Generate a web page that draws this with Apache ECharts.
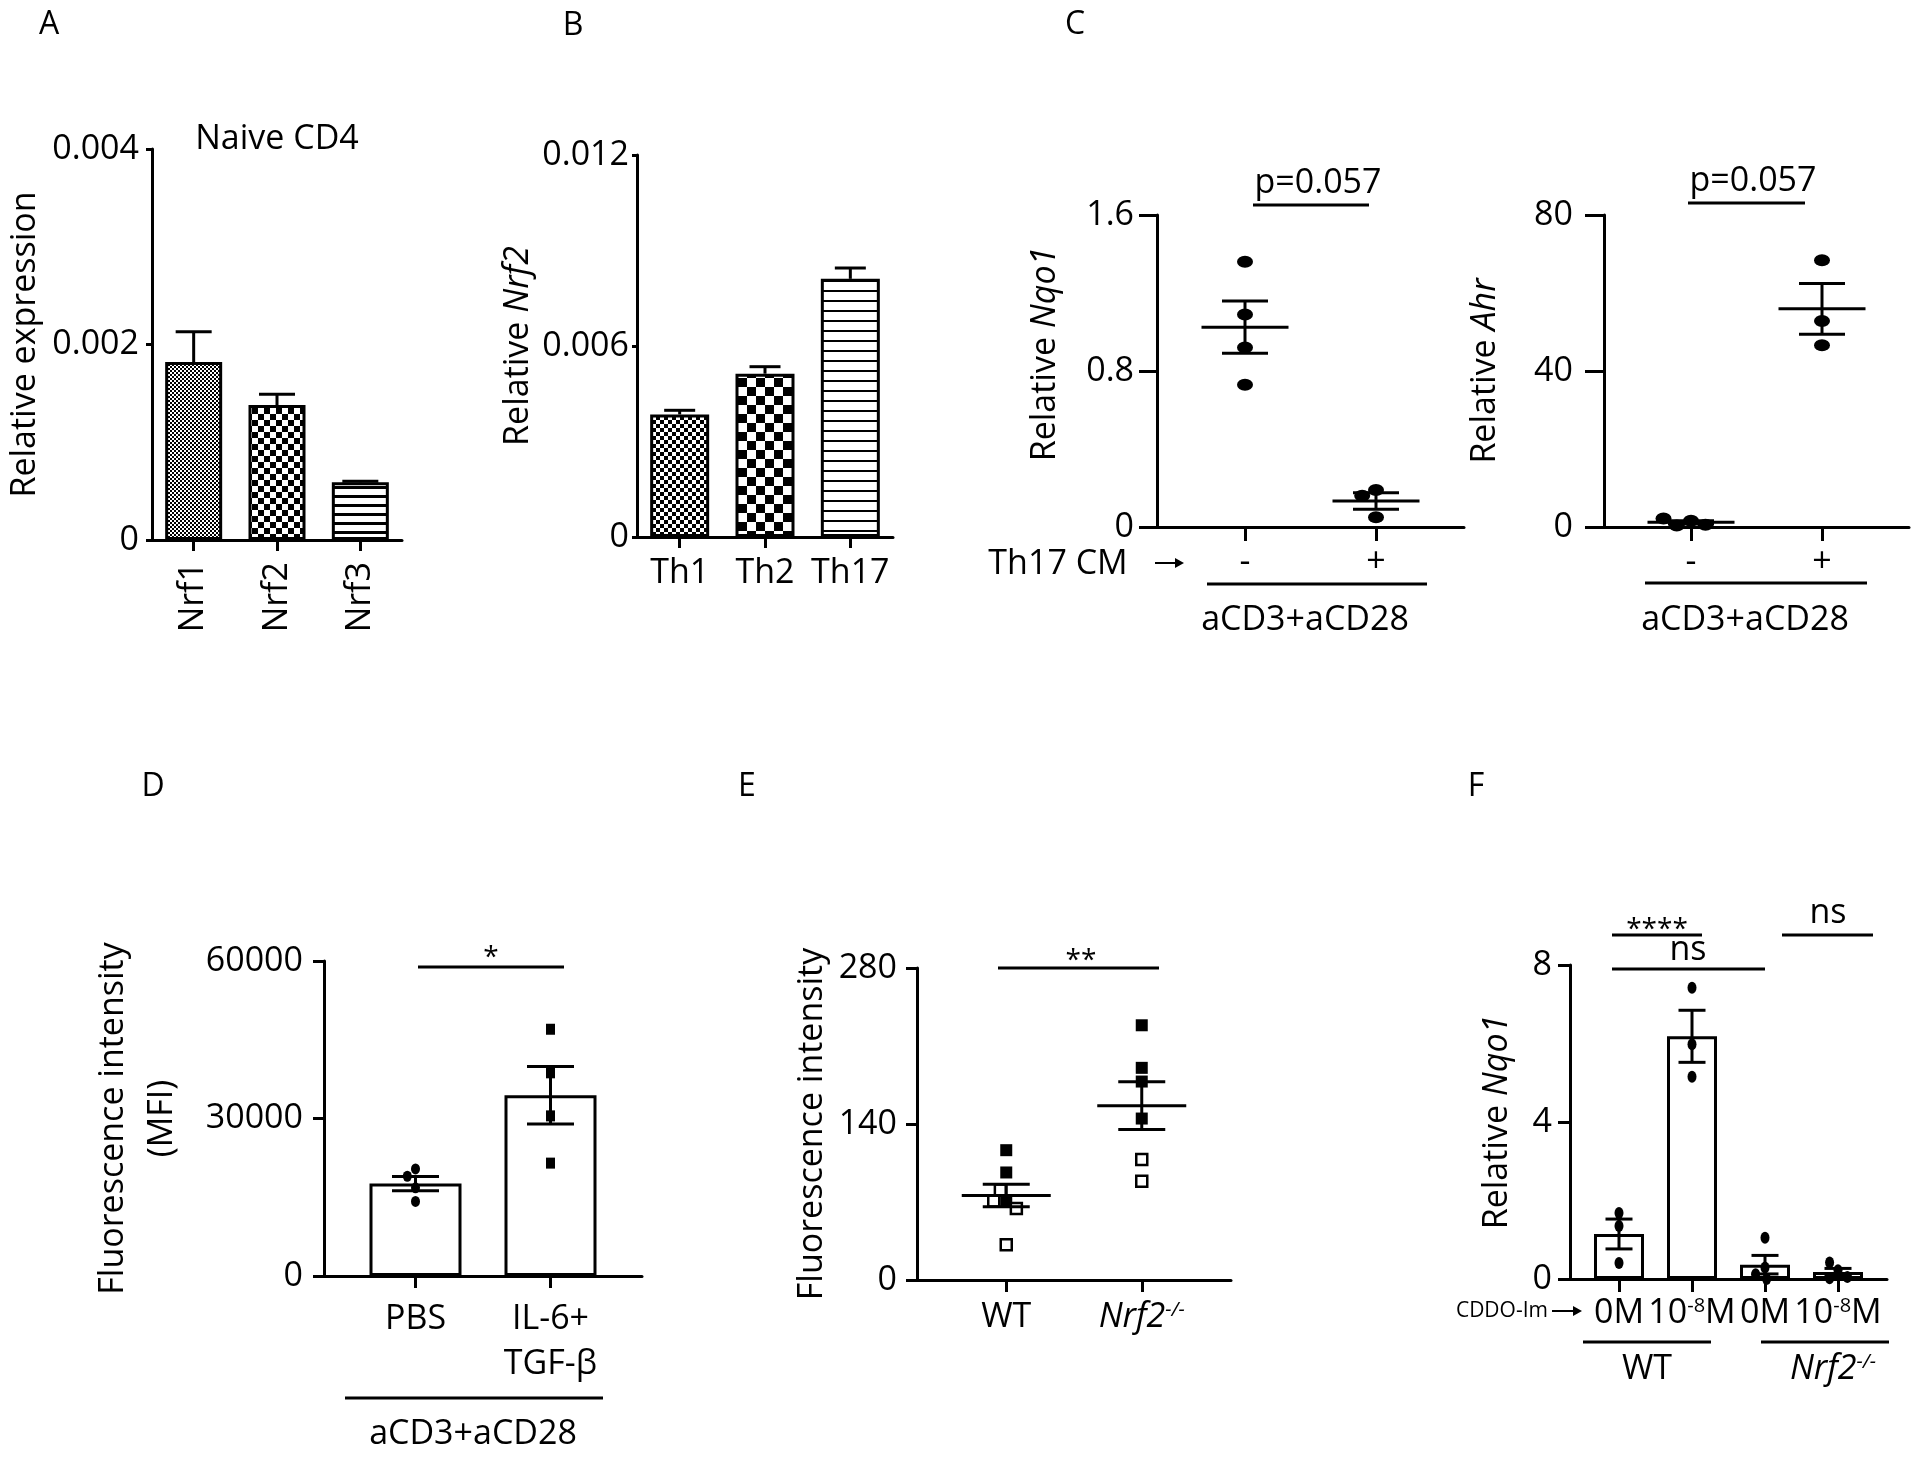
<!DOCTYPE html>
<html>
<head>
<meta charset="utf-8">
<title>Nrf2 figure</title>
<script src="https://cdn.jsdelivr.net/npm/echarts@6.0.0/dist/echarts.min.js"></script>
<style>
html,body{margin:0;padding:0;background:#fff;}
#chart{width:1920px;height:1457px;}
</style>
</head>
<body>
<div id="chart"></div>
<script>
// ================= DATA =================
// Panel A
const aCategories = ['Nrf1', 'Nrf2', 'Nrf3'];
const aMeans = [0.00182, 0.00138, 0.00059];
const aSems = [0.00031, 0.00011, 0.00001];
const aYTicks = [0, 0.002, 0.004];
const aYLabels = ['0', '0.002', '0.004'];
// Panel B
const bCategories = ['Th1', 'Th2', 'Th17'];
const bMeans = [0.00385, 0.00513, 0.00811];
const bSems = [0.00013, 0.00022, 0.00034];
const bYTicks = [0, 0.006, 0.012];
const bYLabels = ['0', '0.006', '0.012'];
// Panel C
const cCategories = ['-', '+'];
const cNqo1Minus = [1.36, 1.09, 0.92, 0.73];
const cNqo1Plus = [0.19, 0.16, 0.05];
const cNqo1YTicks = [0, 0.8, 1.6];
const cNqo1YLabels = ['0', '0.8', '1.6'];
const cAhrMinus = [1.6, 0.4, 0.6, 2.2];
const cAhrPlus = [68.4, 52.8, 46.6];
const cAhrYTicks = [0, 40, 80];
const cAhrYLabels = ['0', '40', '80'];
// Panel D
const dCategories = ['PBS', 'IL-6+\nTGF-β'];
const dPBS = [20400, 19000, 16800, 14200];
const dIL6TGF = [47000, 38700, 30500, 21500];
const dYTicks = [0, 30000, 60000];
const dYLabels = ['0', '30000', '60000'];
// Panel E
const eCategories = ['WT', 'Nrf2-/-'];
const eWTFilled = [116.5, 96.5, 70.8];
const eWTOpen = [80.7, 70.8, 64.2, 31.7];
const eKOFilled = [228.6, 190.4, 178.1, 144.9];
const eKOOpen = [108.2, 88.7];
const eYTicks = [0, 140, 280];
const eYLabels = ['0', '140', '280'];
// Panel F
const fCategories = ['0M', '10-8M', '0M', '10-8M'];
const fWT0 = [1.68, 1.35, 0.41];
const fWT8 = [7.42, 5.98, 5.15];
const fKO0 = [1.05, 0.29, 0.12, 0.0];
const fKO8 = [0.22, 0.42, 0.02, 0.05];
const fYTicks = [0, 4, 8];
const fYLabels = ['0', '4', '8'];

// ================= STYLE / HELPERS =================
const FONT = "'Open Sans', 'Noto Sans', 'DejaVu Sans', sans-serif";
const FS = 34;
const BLACK = '#000';
const LINE = { color: BLACK, width: 3 };
const RICH = {
  i: { fontFamily: FONT, fontSize: FS, fontStyle: 'italic', color: BLACK },
  sup: { fontFamily: FONT, fontSize: 20, color: BLACK, verticalAlign: 'top' },
  isup: { fontFamily: FONT, fontSize: 20, fontStyle: 'italic', color: BLACK, verticalAlign: 'top' }
};

function stat(arr) {
  const n = arr.length;
  const m = arr.reduce((s, v) => s + v, 0) / n;
  const sd = Math.sqrt(arr.reduce((s, v) => s + (v - m) * (v - m), 0) / (n - 1));
  return [m, sd / Math.sqrt(n)];
}
function tickFmt(ticks, labels) {
  return function (v) {
    const i = ticks.findIndex(t => Math.abs(t - v) < 1e-9);
    return i >= 0 ? labels[i] : '';
  };
}
function pattern(draw, w, h) {
  const c = document.createElement('canvas');
  c.width = w; c.height = h;
  const g = c.getContext('2d');
  g.fillStyle = '#fff'; g.fillRect(0, 0, w, h);
  g.fillStyle = '#000'; draw(g);
  return { image: c, repeat: 'repeat' };
}
const checker = n => pattern(g => { g.fillRect(0, 0, n, n); g.fillRect(n, n, n, n); }, 2 * n, 2 * n);
const stripes = (p, t) => pattern(g => { g.fillRect(0, 0, 4, t); }, 4, p);

const grid = [], xAxis = [], yAxis = [], series = [], graphic = [];

function panel(p) {
  const go = grid.length;
  grid.push({ left: p.left, top: p.top, width: p.width, height: p.height });
  grid.push({ left: p.left + p.inset, top: p.top, width: p.width - 2 * p.inset, height: p.height });
  xAxis.push({
    gridIndex: go, type: 'value', min: 0, max: 1,
    axisLine: { show: true, onZero: false, lineStyle: LINE },
    axisTick: { show: false }, axisLabel: { show: false }, splitLine: { show: false }
  });
  yAxis.push({
    gridIndex: go, type: 'value', min: p.ticks[0], max: p.ticks[p.ticks.length - 1],
    interval: p.ticks[1] - p.ticks[0],
    axisLine: { show: true, onZero: false, lineStyle: LINE },
    axisTick: { show: true, length: p.yTick, lineStyle: LINE },
    axisLabel: { show: true, margin: p.yMargin, formatter: tickFmt(p.ticks, p.labels), color: BLACK, fontFamily: FONT, fontSize: FS },
    splitLine: { show: false },
    name: p.name, nameLocation: 'middle', nameGap: p.nameGap, nameRotate: 90,
    nameTextStyle: { color: BLACK, fontFamily: FONT, fontSize: FS, lineHeight: p.nameLH || FS, rich: RICH, padding: p.namePad || 0 }
  });
  const xi = xAxis.length;
  xAxis.push({
    gridIndex: go + 1, type: 'category', data: p.cats, boundaryGap: true,
    axisLine: { show: false },
    axisTick: { show: true, alignWithLabel: true, length: p.xTick, lineStyle: LINE },
    axisLabel: {
      show: true, interval: 0, margin: p.xMargin, rotate: p.rotate || 0,
      formatter: p.xFmt || (v => v), color: BLACK, fontFamily: FONT, fontSize: FS,
      lineHeight: p.xLH || FS, rich: RICH
    },
    splitLine: { show: false },
    jitter: p.jitter || 0, jitterOverlap: false, jitterMargin: 1
  });
  const yi = yAxis.length;
  yAxis.push({
    gridIndex: go + 1, type: 'value', min: p.ticks[0], max: p.ticks[p.ticks.length - 1], show: false
  });
  return [xi, yi];
}

function errSeries(xi, yi, stats, o) {
  return {
    type: 'custom', xAxisIndex: xi, yAxisIndex: yi, z: 6, silent: true,
    dimensions: ['x', 'm', 's'], encode: { x: 0, y: 1 },
    data: stats,
    renderItem: function (params, api) {
      const x = api.value(0), m = api.value(1), s = api.value(2);
      const c = api.coord([x, m]);
      const hi = api.coord([x, m + s]);
      const lo = api.coord([x, o.upOnly ? m : Math.max(m - s, 0)]);
      const st = { stroke: BLACK, lineWidth: 3 };
      const ch = [];
      if (o.meanW) ch.push({ type: 'line', shape: { x1: c[0] - o.meanW / 2, y1: c[1], x2: c[0] + o.meanW / 2, y2: c[1] }, style: st });
      ch.push({ type: 'line', shape: { x1: hi[0], y1: hi[1], x2: lo[0], y2: lo[1] }, style: st });
      ch.push({ type: 'line', shape: { x1: hi[0] - o.capW / 2, y1: hi[1], x2: hi[0] + o.capW / 2, y2: hi[1] }, style: st });
      if (!o.upOnly) ch.push({ type: 'line', shape: { x1: lo[0] - o.capW / 2, y1: lo[1], x2: lo[0] + o.capW / 2, y2: lo[1] }, style: st });
      return { type: 'group', children: ch };
    }
  };
}
function dots(xi, yi, catIndex, values, sym, size, open) {
  return {
    type: 'scatter', xAxisIndex: xi, yAxisIndex: yi, z: 4, silent: true,
    symbol: sym, symbolSize: size,
    itemStyle: open ? { color: '#fff', borderColor: BLACK, borderWidth: 2.5, opacity: 1 } : { color: BLACK, opacity: 1 },
    data: values.map(v => [catIndex, v])
  };
}
function text(x, y, str, o) {
  o = o || {};
  graphic.push({
    type: 'text', x: x, y: y, silent: true,
    style: {
      text: str, fill: BLACK, fontFamily: FONT, fontSize: o.fs || FS, fontStyle: o.italic ? 'italic' : 'normal',
      align: o.align || 'center', verticalAlign: 'middle', textAlign: o.align || 'center', textVerticalAlign: 'middle',
      rich: RICH
    }
  });
}
function hline(x1, x2, y, w) {
  graphic.push({ type: 'line', silent: true, shape: { x1: x1, y1: y, x2: x2, y2: y }, style: { stroke: BLACK, lineWidth: w || 3 } });
}
function arrow(x1, x2, y) {
  hline(x1, x2 - 2, y, 2);
  graphic.push({ type: 'polygon', silent: true, shape: { points: [[x2 - 9, y - 5], [x2, y], [x2 - 9, y + 5]] }, style: { fill: BLACK } });
}

// ================= PANEL A =================
{
  const [xi, yi] = panel({
    left: 152, top: 149, width: 250, height: 391, inset: 0,
    ticks: aYTicks, labels: aYLabels, yTick: 6, yMargin: 13,
    name: 'Relative expression', nameGap: 110,
    cats: aCategories, xTick: 11, xMargin: 22, rotate: 90
  });
  const fills = [checker(2), checker(6), stripes(9, 3)];
  series.push({
    type: 'bar', xAxisIndex: xi, yAxisIndex: yi, barWidth: 57, z: 2, silent: true,
    itemStyle: { borderColor: BLACK, borderWidth: 3 },
    data: aMeans.map((v, i) => ({ value: v, itemStyle: { color: fills[i] } }))
  });
  series.push(errSeries(xi, yi, aMeans.map((m, i) => [i, m, aSems[i]]), { capW: 36, upOnly: true }));
}
// ================= PANEL B =================
{
  const [xi, yi] = panel({
    left: 637, top: 155, width: 256, height: 382, inset: 0,
    ticks: bYTicks, labels: bYLabels, yTick: 5, yMargin: 8,
    name: 'Relative {i|Nrf2}', nameGap: 102,
    cats: bCategories, xTick: 11, xMargin: 19
  });
  const fills = [checker(4), checker(9), stripes(10, 2)];
  series.push({
    type: 'bar', xAxisIndex: xi, yAxisIndex: yi, barWidth: 59, z: 2, silent: true,
    itemStyle: { borderColor: BLACK, borderWidth: 3 },
    data: bMeans.map((v, i) => ({ value: v, itemStyle: { color: fills[i] } }))
  });
  series.push(errSeries(xi, yi, bMeans.map((m, i) => [i, m, bSems[i]]), { capW: 31, upOnly: true }));
}
// ================= PANEL C (Nqo1) =================
{
  const [xi, yi] = panel({
    left: 1157, top: 215, width: 307, height: 312, inset: 22.5,
    ticks: cNqo1YTicks, labels: cNqo1YLabels, yTick: 18, yMargin: 23,
    name: 'Relative {i|Nqo1}', nameGap: 95, namePad: [0, 0, 0, 34],
    cats: cCategories, xTick: 14, xMargin: 18, jitter: 70
  });
  series.push(dots(xi, yi, 0, cNqo1Minus, 'circle', [16, 12]));
  series.push(dots(xi, yi, 1, cNqo1Plus, 'circle', [16, 12]));
  series.push(errSeries(xi, yi, [[0, ...stat(cNqo1Minus)], [1, ...stat(cNqo1Plus)]], { meanW: 87, capW: 46 }));
}
// ================= PANEL C (Ahr) =================
{
  const [xi, yi] = panel({
    left: 1604, top: 215, width: 305, height: 312, inset: 21.5,
    ticks: cAhrYTicks, labels: cAhrYLabels, yTick: 19, yMargin: 31,
    name: 'Relative {i|Ahr}', nameGap: 102,
    cats: cCategories, xTick: 14, xMargin: 18, jitter: 70
  });
  series.push(dots(xi, yi, 0, cAhrMinus, 'circle', [16, 12]));
  series.push(dots(xi, yi, 1, cAhrPlus, 'circle', [16, 12]));
  series.push(errSeries(xi, yi, [[0, ...stat(cAhrMinus)], [1, ...stat(cAhrPlus)]], { meanW: 87, capW: 46 }));
}
// ================= PANEL D =================
{
  const [xi, yi] = panel({
    left: 324, top: 961, width: 318, height: 315, inset: 24,
    ticks: dYTicks, labels: dYLabels, yTick: 11, yMargin: 21,
    name: 'Fluorescence intensity\n(MFI)', nameGap: 137, nameLH: 49,
    cats: dCategories, xTick: 12, xMargin: 21, xLH: 45, jitter: 30
  });
  const groups = [dPBS, dIL6TGF];
  series.push({
    type: 'bar', xAxisIndex: xi, yAxisIndex: yi, barWidth: 92, z: 2, silent: true,
    itemStyle: { color: '#fff', borderColor: BLACK, borderWidth: 3 },
    data: groups.map(g => stat(g)[0])
  });
  series.push(dots(xi, yi, 0, dPBS, 'circle', [9, 11]));
  series.push(dots(xi, yi, 1, dIL6TGF, 'rect', [9, 11]));
  series.push(errSeries(xi, yi, groups.map((g, i) => [i, ...stat(g)]), { capW: 47 }));
}
// ================= PANEL E =================
{
  const [xi, yi] = panel({
    left: 917, top: 968, width: 314, height: 312, inset: 21.5,
    ticks: eYTicks, labels: eYLabels, yTick: 11, yMargin: 20,
    name: 'Fluorescence intensity', nameGap: 88,
    cats: eCategories, xTick: 12, xMargin: 20, jitter: 60,
    xFmt: (v, i) => i === 1 ? '{i|Nrf2}{isup|-/-}' : v
  });
  series.push(dots(xi, yi, 0, eWTFilled, 'rect', 12));
  series.push(dots(xi, yi, 0, eWTOpen, 'rect', 11, true));
  series.push(dots(xi, yi, 1, eKOFilled, 'rect', 12));
  series.push(dots(xi, yi, 1, eKOOpen, 'rect', 11, true));
  const wt = eWTFilled.concat(eWTOpen), ko = eKOFilled.concat(eKOOpen);
  series.push(errSeries(xi, yi, [[0, ...stat(wt)], [1, ...stat(ko)]], { meanW: 89, capW: 47 }));
}
// ================= PANEL F =================
{
  const [xi, yi] = panel({
    left: 1570, top: 965, width: 317, height: 314, inset: 12.5,
    ticks: fYTicks, labels: fYLabels, yTick: 12, yMargin: 18,
    name: 'Relative {i|Nqo1}', nameGap: 56,
    cats: fCategories.map((c, i) => c + '#' + i), xTick: 13, xMargin: 17, jitter: 40,
    xFmt: (v, i) => fCategories[i] === '10-8M' ? '10{sup|-8}M' : fCategories[i]
  });
  const groups = [fWT0, fWT8, fKO0, fKO8];
  series.push({
    type: 'bar', xAxisIndex: xi, yAxisIndex: yi, barWidth: 50, z: 2, silent: true,
    itemStyle: { color: '#fff', borderColor: BLACK, borderWidth: 3 },
    data: groups.map(g => stat(g)[0])
  });
  groups.forEach((g, i) => series.push(dots(xi, yi, i, g, 'circle', [9, 12])));
  series.push(errSeries(xi, yi, groups.map((g, i) => [i, ...stat(g)]), { capW: 27 }));
}

// ================= ANNOTATIONS =================
text(49, 25, 'A', { fs: 32 });
text(573, 26, 'B', { fs: 32 });
text(1075, 25, 'C', { fs: 32 });
text(153, 787, 'D', { fs: 32 });
text(747, 787, 'E', { fs: 32 });
text(1476, 787, 'F', { fs: 32 });

text(277, 139, 'Naive CD4');

// C
text(1318, 183, 'p=0.057');
hline(1253, 1369, 205);
text(1753, 181, 'p=0.057');
hline(1688, 1805, 203);
text(1058, 564, 'Th17 CM');
arrow(1155, 1184, 563);
hline(1207, 1427, 584);
text(1305, 620, 'aCD3+aCD28');
hline(1645, 1867, 583);
text(1745, 620, 'aCD3+aCD28');

// D
text(491, 958, '*', { fs: 28 });
hline(418, 564, 967);
hline(345, 603, 1398);
text(473, 1434, 'aCD3+aCD28');

// E
text(1081, 961, '**', { fs: 28 });
hline(998, 1159, 968);

// F
text(1657, 930, '****', { fs: 28 });
hline(1612, 1702, 935);
text(1688, 950, 'ns');
hline(1612, 1765, 969);
text(1828, 913, 'ns');
hline(1782, 1873, 935);
text(1548, 1311, 'CDDO-Im', { fs: 21, align: 'right' });
arrow(1552, 1582, 1311);
hline(1583, 1711, 1342);
hline(1761, 1889, 1342);
text(1647, 1369, 'WT');
text(1833, 1369, '{i|Nrf2}{isup|-/-}');

// ================= CHART =================
const chart = echarts.init(document.getElementById('chart'), null, { renderer: 'canvas' });
chart.setOption({
  backgroundColor: '#fff',
  animation: false,
  textStyle: { fontFamily: FONT, color: BLACK },
  grid: grid,
  xAxis: xAxis,
  yAxis: yAxis,
  series: series,
  graphic: { elements: graphic }
});
</script>
</body>
</html>
